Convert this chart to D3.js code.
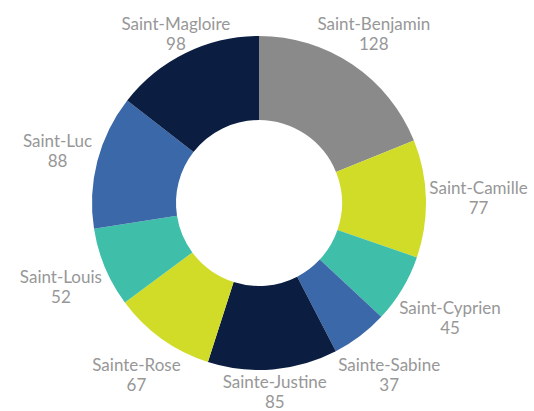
<!DOCTYPE html>
<html>
<head>
<meta charset="utf-8">
<script src="https://cdn.jsdelivr.net/npm/d3@7/dist/d3.min.js"></script>
<style>
  html, body { margin: 0; padding: 0; background: #ffffff; }
  svg { display: block; }
</style>
</head>
<body>
<svg id="chart" width="534" height="411"></svg>
<script>
const categories = ["Saint-Benjamin", "Saint-Camille", "Saint-Cyprien", "Sainte-Sabine", "Sainte-Justine", "Sainte-Rose", "Saint-Louis", "Saint-Luc", "Saint-Magloire"];
const values = [128, 77, 45, 37, 85, 67, 52, 88, 98];
const colors = ["#8a8a8a", "#d1dc29", "#3fbfa9", "#3b68a8", "#0b1e42", "#d1dc29", "#3fbfa9", "#3b68a8", "#0b1e42"];

const W = 534, H = 411;
const cx = 259, cy = 203;
const outerR = 167, innerR = 83;

const data = categories.map((c, i) => ({ name: c, value: values[i], color: colors[i] }));

const svg = d3.select("#chart");
const g = svg.append("g").attr("transform", `translate(${cx},${cy})`);

const pie = d3.pie().value(d => d.value).sort(null);
const arc = d3.arc().innerRadius(innerR).outerRadius(outerR);
const arcs = pie(data);

g.selectAll("path.slice")
  .data(arcs)
  .join("path")
  .attr("class", "slice")
  .attr("d", arc)
  .attr("fill", d => d.data.color);

const labelGap = 170;
const lineH = 20;
const fontSize = 17;

const labels = g.selectAll("g.lbl")
  .data(arcs)
  .join("g")
  .attr("class", "lbl");

labels.append("text")
  .attr("class", "nm")
  .attr("text-anchor", "middle")
  .attr("dominant-baseline", "central")
  .attr("font-family", "Lato, 'Open Sans', sans-serif")
  .attr("font-size", fontSize)
  .attr("fill", "#979797")
  .attr("y", -lineH / 2)
  .text(d => d.data.name);

labels.append("text")
  .attr("class", "vl")
  .attr("text-anchor", "middle")
  .attr("dominant-baseline", "central")
  .attr("font-family", "Lato, 'Open Sans', sans-serif")
  .attr("font-size", fontSize)
  .attr("fill", "#979797")
  .attr("y", lineH / 2)
  .text(d => d.data.value);

labels.each(function (d) {
  const sel = d3.select(this);
  const w = sel.select("text.nm").node().getComputedTextLength();
  const hw = w / 2, hh = 18;
  const a = (d.startAngle + d.endAngle) / 2;
  const sx = Math.sin(a), sy = -Math.cos(a);
  let t = labelGap + Math.abs(sy) * hh + Math.abs(sx) * hw;
  let x = sx * t, y = sy * t;
  const minY = 33 - cy;
  const maxY = 391 - cy;
  if (y < minY) {
    t = minY / sy;
    x = sx * t; y = minY;
  } else if (y > maxY) {
    t = maxY / sy;
    x = sx * t; y = maxY;
  }
  sel.attr("transform", `translate(${x},${y})`);
});
</script>
</body>
</html>
